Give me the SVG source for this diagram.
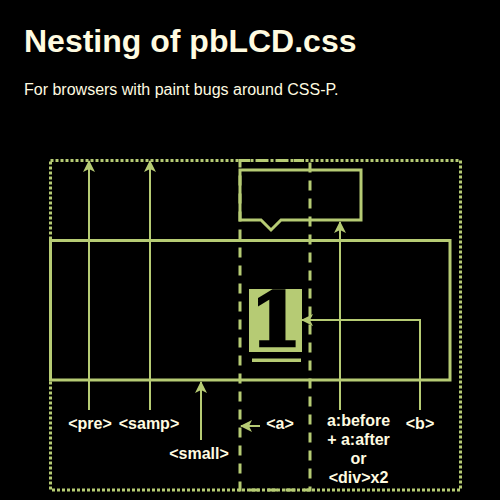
<svg xmlns="http://www.w3.org/2000/svg" width="500" height="500" viewBox="0 0 500 500">
<defs>
<style>
.t{fill:#fffbe0;font-family:"Liberation Sans",Arial,sans-serif}
.lbl{fill:#fffbe0;font-family:"Liberation Sans",Arial,sans-serif;font-weight:bold;font-size:16px;text-anchor:middle}
.g{fill:none;stroke:#b6cb74;stroke-width:3}
.ln{fill:none;stroke:#b6cb74;stroke-width:2}
</style>
<marker id="ah" viewBox="0 0 12 12" refX="11" refY="6" markerWidth="12" markerHeight="12" markerUnits="userSpaceOnUse" orient="auto">
<path d="M0,0 L12,6 L0,12 L3,6 Z" fill="#b6cb74"/>
</marker>
</defs>
<rect width="500" height="500" fill="#000"/>
<text class="t" x="24" y="52" font-size="32" font-weight="bold">Nesting of pbLCD.css</text>
<text class="t" x="24" y="95" font-size="16">For browsers with paint bugs around CSS-P.</text>

<g id="pre-box"><rect class="g" x="50.5" y="160.5" width="410" height="329.5" stroke-dasharray="3 2"/></g>
<g id="a-box"><rect class="g" x="240" y="160.5" width="70" height="329.5" stroke-dasharray="10 8"/></g>
<g id="samp-box"><rect class="g" x="50.5" y="240.5" width="399.5" height="139.5"/></g>
<g id="bubble"><path class="g" d="M240,170 H361 V220 H281 L271,230 L261,220 H240 Z"/></g>
<g id="digit">
<rect x="249" y="289" width="53" height="63" fill="#b6cb74"/>
<text x="276" y="346" font-family="'DejaVu Serif',serif" font-weight="bold" font-size="74" text-anchor="middle" fill="#000" stroke="#000" stroke-width="2.5" stroke-linejoin="miter">1</text>
<rect x="252" y="358.5" width="49" height="3.5" fill="#b6cb74"/>
</g>

<g id="connectors">
<line class="ln" x1="89" y1="410" x2="89" y2="161" marker-end="url(#ah)"/>
<line class="ln" x1="150" y1="410" x2="150" y2="161" marker-end="url(#ah)"/>
<line class="ln" x1="201" y1="440" x2="201" y2="382" marker-end="url(#ah)"/>
<line class="ln" x1="340" y1="410" x2="340" y2="222" marker-end="url(#ah)"/>
<polyline class="ln" points="420,410 420,320 302,320" marker-end="url(#ah)"/>
<line class="ln" x1="260" y1="426" x2="241" y2="426" marker-end="url(#ah)"/>
</g>

<g id="labels">
<text class="lbl" x="90" y="429">&lt;pre&gt;</text>
<text class="lbl" x="149" y="429">&lt;samp&gt;</text>
<text class="lbl" x="199" y="459">&lt;small&gt;</text>
<text class="lbl" x="280" y="429">&lt;a&gt;</text>
<text class="lbl" x="420" y="429">&lt;b&gt;</text>
<text class="lbl" x="358.5" y="426">a:before</text>
<text class="lbl" x="358.5" y="445">+ a:after</text>
<text class="lbl" x="358.5" y="464">or</text>
<text class="lbl" x="358.5" y="483">&lt;div&gt;x2</text>
</g>
</svg>
